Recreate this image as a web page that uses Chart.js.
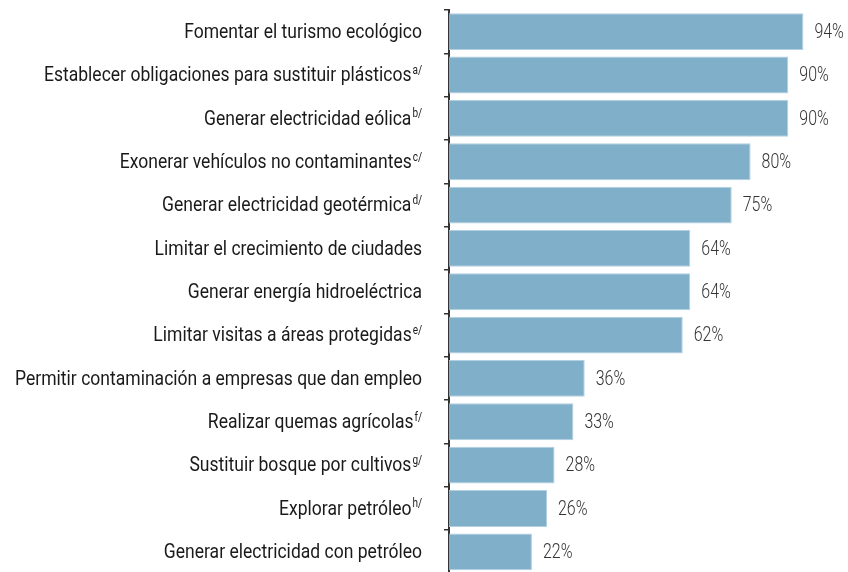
<!DOCTYPE html>
<html><head><meta charset="utf-8">
<script src="https://cdn.jsdelivr.net/npm/chart.js@4/dist/chart.umd.min.js"></script>
<style>html,body{margin:0;padding:0;background:#fff;overflow:hidden}#wrap{width:848px;height:572px;position:relative;overflow:hidden}</style>
</head><body><div id="wrap"><canvas id="c" width="848" height="580"></canvas></div>
<script>
const categories = [
  "Fomentar el turismo ecológico",
  "Establecer obligaciones para sustituir plásticos",
  "Generar electricidad eólica",
  "Exonerar vehículos no contaminantes",
  "Generar electricidad geotérmica",
  "Limitar el crecimiento de ciudades",
  "Generar energía hidroeléctrica",
  "Limitar visitas a áreas protegidas",
  "Permitir contaminación a empresas que dan empleo",
  "Realizar quemas agrícolas",
  "Sustituir bosque por cultivos",
  "Explorar petróleo",
  "Generar electricidad con petróleo"
];
const footnotes = ["", "a/", "b/", "c/", "d/", "", "", "e/", "", "f/", "g/", "h/", ""];
const values = [94, 90, 90, 80, 75, 64, 64, 62, 36, 33, 28, 26, 22];
const valueLabels = ["94%", "90%", "90%", "80%", "75%", "64%", "64%", "62%", "36%", "33%", "28%", "26%", "22%"];

const FONT = 'Roboto, "Noto Sans", sans-serif';
const LABEL_FONT = '21px ' + FONT;
const SUP_FONT = '12px ' + FONT;
const VALUE_FONT = '300 21px ' + FONT;

const labelPlugin = {
  id: 'customLabels',
  afterDraw(chart) {
    const ctx = chart.ctx;
    const ys = chart.scales.y;
    ctx.save();
    ctx.font = LABEL_FONT;
    const widest = Math.max(...categories.map(t => ctx.measureText(t).width));
    const k = 407 / widest;
    const right = 422;
    categories.forEach((txt, i) => {
      const y = ys.getPixelForValue(i);
      ctx.font = LABEL_FONT;
      const mw = ctx.measureText(txt).width * k;
      ctx.font = SUP_FONT;
      const sw = footnotes[i] ? (ctx.measureText(footnotes[i]).width + 1) * k : 0;
      ctx.fillStyle = '#1a1a1a';
      ctx.textAlign = 'left';
      ctx.save();
      ctx.translate(right - sw - mw, y + 1);
      ctx.scale(k, 1);
      ctx.font = LABEL_FONT;
      ctx.textBaseline = 'middle';
      ctx.fillText(txt, 0, 0);
      ctx.restore();
      if (footnotes[i]) {
        ctx.save();
        ctx.translate(right - sw + 1, y - 1);
        ctx.scale(k, 1);
        ctx.font = SUP_FONT;
        ctx.textBaseline = 'alphabetic';
        ctx.fillText(footnotes[i], 0, 0);
        ctx.restore();
      }
    });
    const meta = chart.getDatasetMeta(0);
    ctx.fillStyle = '#333333';
    meta.data.forEach((bar, i) => {
      ctx.save();
      ctx.translate(bar.x + 11, bar.y + 1);
      ctx.scale(0.76, 1);
      ctx.font = VALUE_FONT;
      ctx.textBaseline = 'middle';
      ctx.textAlign = 'left';
      ctx.fillText(valueLabels[i], 0, 0);
      ctx.restore();
    });
    ctx.restore();
  }
};

new Chart(document.getElementById('c'), {
  type: 'bar',
  data: {
    labels: categories,
    datasets: [{
      data: values,
      backgroundColor: '#80afc9',
      borderColor: '#b3d0e2',
      borderWidth: 1,
      barPercentage: 0.85,
      categoryPercentage: 1.0
    }]
  },
  options: {
    indexAxis: 'y',
    responsive: false,
    animation: false,
    devicePixelRatio: 1,
    layout: { padding: { top: 10, bottom: 6.5, right: 22, left: 0 } },
    plugins: { legend: { display: false }, tooltip: { enabled: false } },
    scales: {
      x: { display: false, min: 0, max: 100 },
      y: {
        afterFit(s) { s.width = 449; },
        ticks: { display: true, color: 'transparent', font: { size: 1 }, padding: 0 },
        grid: { offset: true, drawOnChartArea: false, drawTicks: true, tickLength: 5, color: '#333', lineWidth: 1.5 },
        border: { display: true, color: '#333', width: 2 }
      }
    }
  },
  plugins: [labelPlugin]
});
</script>
</body></html>
